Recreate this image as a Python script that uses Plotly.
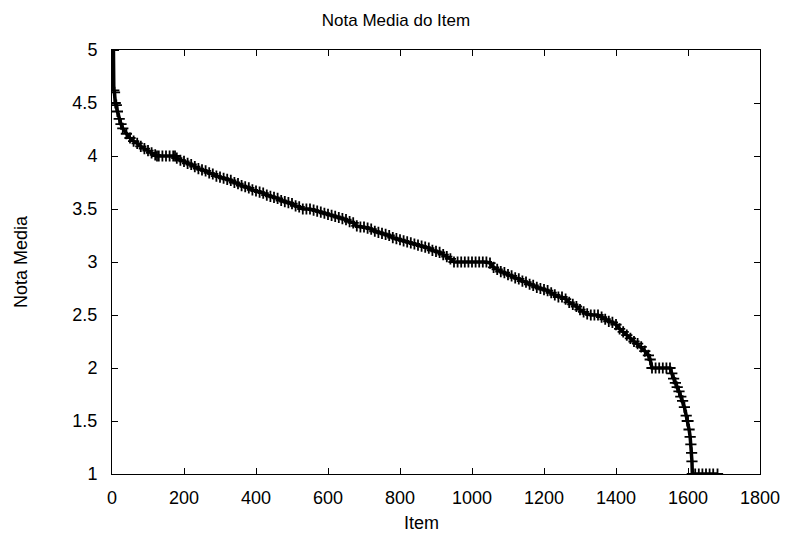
import plotly.graph_objects as go

# Item rank (sorted by mean rating) and mean rating
items = [0, 1, 2, 3, 4, 5, 7, 9, 12, 15, 20, 25, 30, 40, 50, 60, 70, 80, 90, 100,
         110, 120, 125, 130, 140, 150, 160, 170, 175, 180, 190, 200, 210, 220, 230, 240,
         250, 260, 270, 280, 290, 300, 310, 320, 330, 340, 350, 360, 370, 380, 390, 400,
         410, 420, 430, 440, 450, 460, 470, 480, 490, 500, 510, 520, 530, 540, 550, 560,
         570, 580, 590, 600, 610, 620, 630, 640, 650, 660, 670, 680, 690, 700, 710, 720,
         730, 740, 750, 760, 770, 780, 790, 800, 810, 820, 830, 840, 850, 860, 870, 880,
         890, 900, 910, 920, 930, 940, 950, 960, 970, 980, 990, 1000, 1010, 1020, 1030,
         1040, 1050, 1060, 1070, 1080, 1090, 1100, 1110, 1120, 1130, 1140, 1150, 1160,
         1170, 1180, 1190, 1200, 1210, 1220, 1230, 1240, 1250, 1260, 1270, 1280, 1290,
         1300, 1310, 1320, 1330, 1340, 1350, 1360, 1370, 1380, 1390, 1400, 1410, 1420,
         1430, 1440, 1450, 1460, 1470, 1480, 1490, 1495, 1500, 1510, 1520, 1530, 1540,
         1550, 1555, 1560, 1565, 1570, 1575, 1580, 1585, 1590, 1595, 1598, 1600, 1603,
         1606, 1608, 1610, 1611, 1612, 1620, 1630, 1640, 1650, 1660, 1670, 1682]
ratings = [5.0, 5.0, 5.0, 5.0, 5.0, 4.62, 4.6, 4.5, 4.48, 4.42, 4.35, 4.3, 4.26, 4.21, 4.17,
           4.14, 4.12, 4.09, 4.07, 4.05, 4.03, 4.01, 4.0, 4.0, 4.0, 4.0, 4.0, 4.0, 4.0,
           3.98, 3.96, 3.95, 3.93, 3.92, 3.9, 3.88, 3.87, 3.86, 3.84, 3.83, 3.81, 3.8,
           3.79, 3.78, 3.77, 3.75, 3.74, 3.72, 3.71, 3.7, 3.68, 3.67, 3.66, 3.65, 3.63,
           3.62, 3.61, 3.6, 3.58, 3.57, 3.56, 3.55, 3.53, 3.52, 3.5, 3.5, 3.5, 3.49, 3.48,
           3.47, 3.46, 3.45, 3.44, 3.43, 3.42, 3.41, 3.4, 3.38, 3.37, 3.34, 3.33, 3.33,
           3.32, 3.31, 3.29, 3.28, 3.27, 3.26, 3.25, 3.23, 3.22, 3.21, 3.2, 3.19, 3.18,
           3.17, 3.16, 3.15, 3.14, 3.13, 3.11, 3.1, 3.09, 3.07, 3.05, 3.03, 3.0, 3.0, 3.0,
           3.0, 3.0, 3.0, 3.0, 3.0, 3.0, 3.0, 2.99, 2.95, 2.93, 2.91, 2.9, 2.88, 2.87,
           2.85, 2.84, 2.82, 2.81, 2.79, 2.78, 2.76, 2.75, 2.74, 2.73, 2.71, 2.69, 2.67,
           2.67, 2.65, 2.62, 2.6, 2.58, 2.55, 2.53, 2.51, 2.5, 2.5, 2.5, 2.48, 2.46, 2.44,
           2.43, 2.41, 2.37, 2.34, 2.31, 2.28, 2.25, 2.23, 2.2, 2.16, 2.12, 2.08, 2.0,
           2.0, 2.0, 2.0, 2.0, 2.0, 1.95, 1.9, 1.86, 1.82, 1.78, 1.73, 1.69, 1.63, 1.55,
           1.5, 1.5, 1.42, 1.35, 1.28, 1.2, 1.12, 1.0, 1.0, 1.0, 1.0, 1.0, 1.0, 1.0, 1.0]

x_ticks = [0, 200, 400, 600, 800, 1000, 1200, 1400, 1600, 1800]
y_ticks = [1, 1.5, 2, 2.5, 3, 3.5, 4, 4.5, 5]

FONT = "Liberation Sans, Arial, sans-serif"

fig = go.Figure()
fig.add_trace(go.Scatter(
    x=items, y=ratings, mode="lines+markers",
    line=dict(color="black", width=3.5),
    marker=dict(symbol="cross-thin", size=8, color="black",
                line=dict(color="black", width=1.8)),
    showlegend=False,
))

axis_common = dict(
    showline=True, linecolor="black", linewidth=1, mirror="ticks",
    ticks="inside", ticklen=6, tickcolor="black", tickwidth=1,
    showgrid=False, zeroline=False,
    tickfont=dict(family=FONT, size=18, color="black"),
)

fig.update_layout(
    width=792, height=542,
    margin=dict(l=112, r=29, t=50, b=68),
    paper_bgcolor="white", plot_bgcolor="white",
    title=dict(text="Nota Media do Item", x=0.5, xanchor="center",
               yref="container", y=1 - 20 / 542, yanchor="middle",
               font=dict(family=FONT, size=17, color="black")),
    xaxis=dict(range=[0, 1800], tickvals=x_ticks, ticklabelstandoff=7,
               **axis_common),
    yaxis=dict(range=[1, 5], tickvals=y_ticks, ticklabelstandoff=10,
               title=dict(text="Nota Media", standoff=40,
                          font=dict(family=FONT, size=18, color="black")),
               **axis_common),
    annotations=[dict(text="Item", xref="paper", yref="paper",
                      x=0.478, y=-(523 - 474) / 424, xanchor="center",
                      yanchor="middle", showarrow=False,
                      font=dict(family=FONT, size=18, color="black"))],
)

fig.write_html("out.html")
